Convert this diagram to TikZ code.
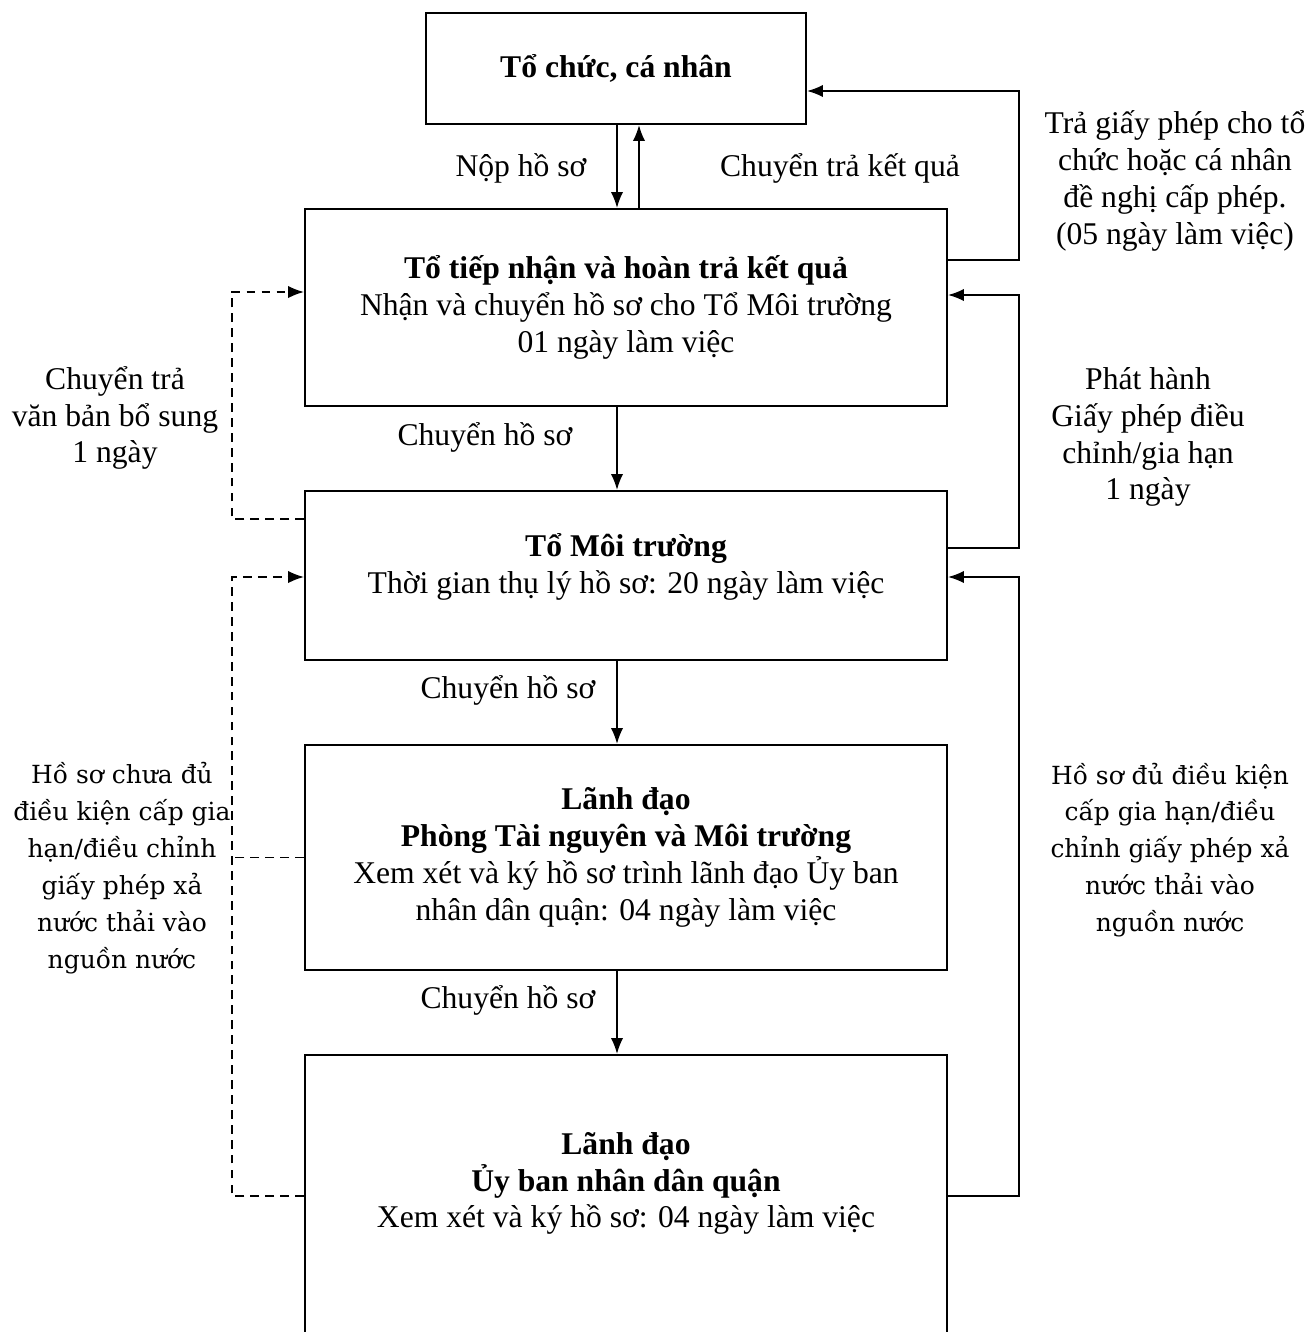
\documentclass[tikz,border=0pt]{standalone}
\usepackage{fontspec}
\setmainfont{Liberation Serif}
\newfontfamily\wideserif{DejaVu Serif}
\usetikzlibrary{arrows.meta, positioning, calc}
\tikzset{
  box/.style={draw, line width=1.2pt, minimum width=12.84cm, align=center, font=\fontsize{18}{21}\selectfont},
  arrow/.style={line width=1pt, -{Latex[length=9pt,width=7pt]}},
  dasharrow/.style={arrow, dash pattern=on 5pt off 3.5pt},
  dashline/.style={line width=1pt, dash pattern=on 5pt off 3.5pt},
  lbl/.style={align=center, font=\fontsize{18}{21}\selectfont},
  widelbl/.style={align=center, font=\wideserif\fontsize{14.2}{21}\selectfont}
}

\begin{document}
\begin{tikzpicture}[x=0.02cm, y=-0.02cm]
  \useasboundingbox (0,0) rectangle (1308,1332);

  % Boxes
  \node[box, minimum width=7.6cm, minimum height=2.22cm] (org) at (616,68.5) {\textbf{Tổ chức, cá nhân}};
  \node[box, minimum height=3.94cm] (recv) at (626,307.5)
    {\textbf{Tổ tiếp nhận và hoàn trả kết quả}\\Nhận và chuyển hồ sơ cho Tổ Môi trường\\01 ngày làm việc};
  \node[box, minimum height=3.38cm] (env) at (626,575.5)
    {\textbf{Tổ Môi trường}\\Thời gian thụ lý hồ sơ: 20 ngày làm việc\\[-0.26cm]};
  \node[box, minimum height=4.5cm] (dept) at (626,857.5)
    {\textbf{Lãnh đạo}\\\textbf{Phòng Tài nguyên và Môi trường}\\Xem xét và ký hồ sơ trình lãnh đạo Ủy ban\\nhân dân quận: 04 ngày làm việc};
  \node[box, minimum height=5.64cm] (ubnd) at (626,1196)
    {\textbf{Lãnh đạo}\\\textbf{Ủy ban nhân dân quận}\\Xem xét và ký hồ sơ: 04 ngày làm việc\\[-0.1cm]};

  % Main flow
  \draw[arrow] ([xshift=0.02cm]org.south) -- ([xshift=-0.18cm]recv.north);
  \draw[arrow] ([xshift=0.26cm]recv.north) -- ([xshift=0.46cm]org.south);
  \draw[arrow] ([xshift=-0.18cm]recv.south) -- ([xshift=-0.18cm]env.north);
  \draw[arrow] ([xshift=-0.18cm]env.south) -- ([xshift=-0.18cm]dept.north);
  \draw[arrow] ([xshift=-0.18cm]dept.south) -- ([xshift=-0.18cm]ubnd.north);

  % Right returns
  \draw[arrow] ([yshift=0.95cm]recv.east) -- ++(1.42cm,0) |- ([yshift=-0.45cm]org.east);
  \draw[arrow] ([yshift=0.55cm]env.east) -- ++(1.42cm,0) |- ([yshift=0.25cm]recv.east);
  \draw[arrow] (ubnd.east) -- ++(1.42cm,0) |- ([yshift=-0.03cm]env.east);

  % Left returns (dashed)
  \draw[dasharrow] ([yshift=1.13cm]env.west) -- ++(-1.44cm,0) |- ([yshift=0.31cm]recv.west);
  \draw[dasharrow] (ubnd.west) -- ++(-1.44cm,0) |- ([yshift=-0.03cm]env.west);
  \draw[dashline] (dept.west) -- ++(-1.44cm,0);

  % Labels
  \node[lbl] (l_submit) at (521,168) {Nộp hồ sơ};
  \node[lbl] (l_back) at (840,168) {Chuyển trả kết quả};
  \node[lbl] (l_move1) at (485,437) {Chuyển hồ sơ};
  \node[lbl] (l_move2) at (508,690) {Chuyển hồ sơ};
  \node[lbl] (l_move3) at (508,1000) {Chuyển hồ sơ};
  \node[lbl] (l_give) at (1175,181) {Trả giấy phép cho tổ\\chức hoặc cá nhân\\đề nghị cấp phép.\\(05 ngày làm việc)};
  \node[lbl] (l_issue) at (1148,437) {Phát hành\\Giấy phép điều\\chỉnh/gia hạn\\1 ngày};
  \node[lbl] (l_extra) at (115,418) {Chuyển trả\\văn bản bổ sung\\1 ngày};
  \node[widelbl] (l_ok) at (1170,850) {Hồ sơ đủ điều kiện\\cấp gia hạn/điều\\chỉnh giấy phép xả\\nước thải vào\\nguồn nước};
  \node[widelbl] (l_notok) at (122,868) {Hồ sơ chưa đủ\\điều kiện cấp gia\\hạn/điều chỉnh\\giấy phép xả\\nước thải vào\\nguồn nước};
\end{tikzpicture}
\end{document}
